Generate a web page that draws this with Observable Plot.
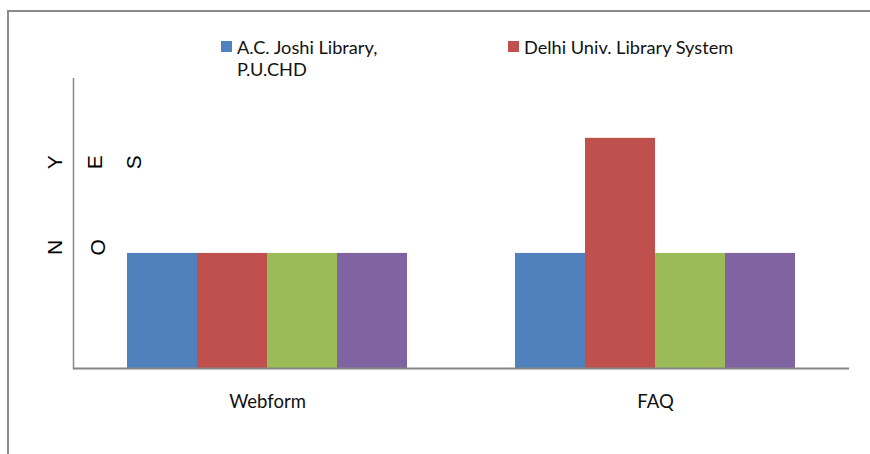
<!DOCTYPE html>
<html>
<head>
<meta charset="utf-8">
<script src="https://cdn.jsdelivr.net/npm/d3@7"></script>
<script src="https://cdn.jsdelivr.net/npm/@observablehq/plot@0.6"></script>
<style>
  html, body { margin: 0; padding: 0; background: #fff; }
  #wrap { position: relative; width: 870px; height: 454px; overflow: hidden; font-family: Lato, "Open Sans", sans-serif; }
  #border { position: absolute; left: 7px; top: 10px; right: -5px; bottom: -5px; border-top: 2px solid #8a8a8a; border-left: 2px solid #8a8a8a; pointer-events: none; }
  #legend { position: relative; height: 78px; }
  .item { position: absolute; top: 36px; font-size: 18.2px; line-height: 22px; color: #111; white-space: nowrap; }
  .sw { position: absolute; width: 11px; height: 11px; top: 5px; }
  .lbl { position: absolute; left: 16px; top: 0; }
  svg text.ylet { font-size: 21px !important; font-family: "Liberation Sans", Arial, sans-serif !important; }
</style>
</head>
<body>
<div id="wrap">
  <div id="border"></div>
  <div id="legend"></div>
  <div id="chart"></div>
</div>
<script>
// ---- data ----
const categories = ["Webform", "FAQ"];
const seriesNames = ["A.C. Joshi Library, P.U.CHD", "Delhi Univ. Library System", "Series 3", "Series 4"];
const legendLabels = [["A.C. Joshi Library,", "P.U.CHD"], ["Delhi Univ. Library System"]];
const seriesColors = ["#4F81BD", "#C0504D", "#9BBB59", "#8064A2"];
const webformValues = [1, 1, 1, 1];
const faqValues = [1, 2, 1, 1];
const yTickValues = [1, 2];
const yTickLabels = ["NO", "YES"];

const values = [webformValues, faqValues];
const data = categories.flatMap((c, ci) =>
  seriesNames.map((s, si) => ({category: c, series: s, value: values[ci][si]}))
);

// stacked-letter tick labels (each letter rotated)
const letterDy = {"NO": -6, "YES": 24};
const letters = yTickValues.flatMap((v, ti) =>
  yTickLabels[ti].split("").map((ch, i) => ({value: v, ch, i, label: yTickLabels[ti]}))
);

// ---- legend ----
const legend = document.getElementById("legend");
const legendX = [221, 508];
legendLabels.forEach((lines, i) => {
  const item = document.createElement("div");
  item.className = "item";
  item.style.left = legendX[i] + "px";
  const sw = document.createElement("div");
  sw.className = "sw";
  sw.style.background = seriesColors[i];
  const lbl = document.createElement("div");
  lbl.className = "lbl";
  lbl.innerHTML = lines.join("<br>");
  item.appendChild(sw);
  item.appendChild(lbl);
  legend.appendChild(item);
});

// ---- chart ----
const chart = Plot.plot({
  width: 870,
  height: 376,
  marginTop: 0,
  marginLeft: 73,
  marginRight: 21,
  marginBottom: 86,
  style: {fontFamily: "Lato, 'Open Sans', sans-serif", fontSize: "18.5px", color: "#111", background: "transparent"},
  fx: {domain: categories, padding: 0, label: null, axis: "bottom", tickSize: 0, tickPadding: 26},
  x: {domain: seriesNames, paddingInner: 0, paddingOuter: 0.75, axis: null},
  y: {domain: [0, 2.52], axis: null},
  color: {domain: seriesNames, range: seriesColors},
  marks: [
    Plot.barY(data, {fx: "category", x: "series", y: "value", fill: "series", inset: 0}),
    Plot.ruleY([0], {stroke: "#868686", strokeWidth: 2}),
    Plot.frame({anchor: "left", facetAnchor: "left", stroke: "#868686", strokeWidth: 1.5}),
    Plot.text(letters, {
      fx: () => categories[0],
      y: "value",
      text: "ch",
      frameAnchor: "left",
      rotate: -90,
      fontSize: 21,
      fill: "#000",
      textAnchor: "middle",
      lineAnchor: "middle"
    })
  ]
});

// position letters horizontally (stacked text rotated): apply offsets per letter
d3.select(chart).selectAll("g[aria-label='text'] text").each(function(d, k) {
  const L = letters[k];
  if (!L) return;
  const el = d3.select(this);
  const t = el.attr("transform") || "";
  const off = -18 + L.i * 39.5 + (L.label === "NO" && L.i > 0 ? 3 : 0);
  el.attr("transform", `translate(${off},${letterDy[L.label]}) ` + t);
  el.classed("ylet", true);
});

document.getElementById("chart").appendChild(chart);
</script>
</body>
</html>
